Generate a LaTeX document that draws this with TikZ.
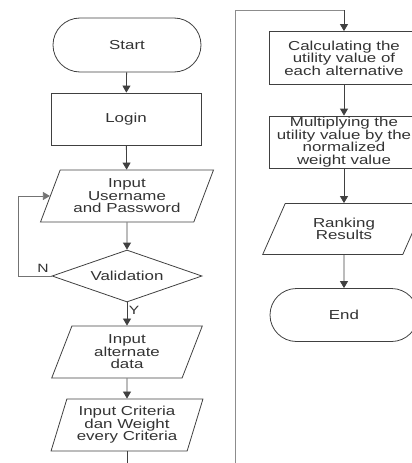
\documentclass[tikz,border=0pt]{standalone}
\usepackage{fontspec}
\setmainfont{Liberation Sans}[FakeStretch=1.3]
\usetikzlibrary{shapes.geometric,shapes.misc,arrows.meta}

\begin{document}
\begin{tikzpicture}[x=1pt, y=-1pt,
    line/.style={draw=black!75, line width=0.8pt},
    flow/.style={line, -{Triangle[width=8pt,length=7pt]}},
    box/.style={draw=black!75, line width=0.8pt, text=black!80, align=center,
      inner sep=1pt, font=\fontsize{13}{12.5}\selectfont},
    terminal/.style={box, rounded rectangle, minimum width=150pt, minimum height=54pt},
    process/.style={box, rectangle, minimum width=150pt, minimum height=52pt},
    io/.style={box, trapezium, trapezium stretches=true, minimum height=52pt},
    decision/.style={box, diamond, aspect=3, inner sep=0pt,
      minimum width=150pt, minimum height=52pt},
    tag/.style={text=black!80, inner sep=0pt, font=\fontsize{12}{12}\selectfont}]
  % Fix the frame of the figure, the right column runs off the edge
  \clip (0, 0) rectangle (412, 463);

  % Left column of the flowchart
  \node[terminal] (start) at (127, 45) {Start};
  \node[process] (login) at (126, 119) {Login};
  \node[io, minimum width=173pt, trapezium left angle=66, trapezium right angle=114]
    (user) at (127, 196) {Input\\Username\\and Password};
  \node[decision] (valid) at (127, 276) {Validation};
  \node[io, minimum width=152pt, trapezium left angle=71, trapezium right angle=109]
    (alt) at (127, 352) {Input\\alternate\\data};
  \node[io, minimum width=152pt, trapezium left angle=71, trapezium right angle=109]
    (crit) at (127, 425) {Input Criteria\\dan Weight\\every Criteria};

  % Right column of the flowchart
  \node[process, minimum height=53pt] (calc) at (344, 58)
    {Calculating the\\utility value of\\each alternative};
  \node[process, inner sep=0pt] (mult) at (344, 142)
    {Multiplying the\\utility value by the\\normalized\\weight value};
  \node[io, minimum width=164pt, minimum height=51pt, trapezium left angle=63,
    trapezium right angle=117] (rank) at (344, 229) {Ranking\\Results};
  \node[terminal, minimum height=53pt] (end) at (344, 315) {End};

  % Branch labels
  \node[tag] (nlabel) at (43, 268) {N};
  \node[tag] (ylabel) at (134, 310) {Y};

  % Connectors
  \coordinate (loop) at (18, 276);
  \coordinate (leftend) at (127, 470);
  \coordinate (divbottom) at (235, 470);
  \coordinate (divtop) at (235, 10);
  \coordinate (divturn) at (344, 10);
  \draw[flow] (start) -- (login);
  \draw[flow] (login) -- (user);
  \draw[flow] (user) -- (valid);
  \draw[flow] (valid) -- (alt);
  \draw[flow] (alt) -- (crit);
  \draw[line] (crit) -- (leftend);
  \draw[line, draw=black!55] (valid.west) -- (loop);
  \draw[flow, draw=black!55] (loop) |- (user);
  \draw[line, draw=black!45] (divbottom) -- (divtop) -- (divturn);
  \draw[flow] (divturn) -- (calc);
  \draw[flow] (calc) -- (mult);
  \draw[flow] (mult) -- (rank);
  \draw[flow] (rank) -- (end);
\end{tikzpicture}
\end{document}
